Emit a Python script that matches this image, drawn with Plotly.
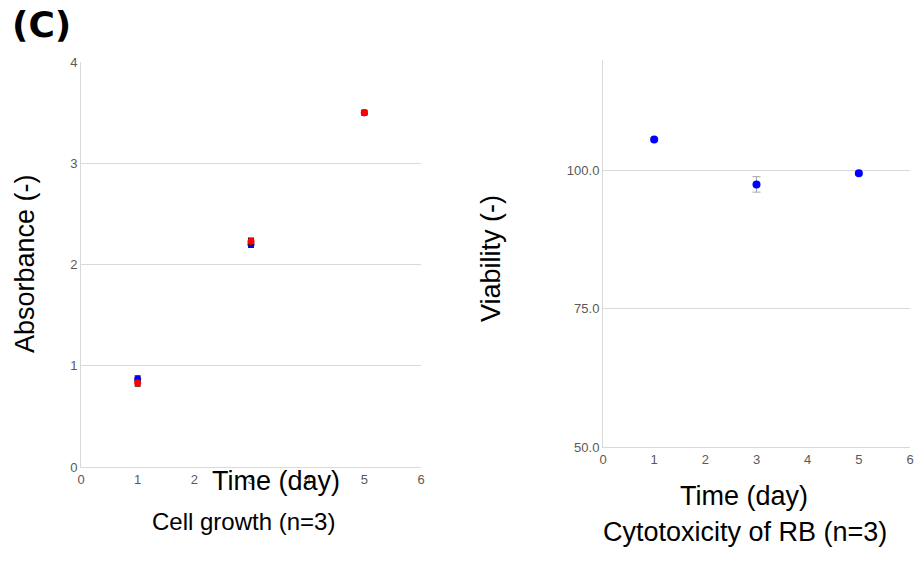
import plotly.graph_objects as go

# Data
days = [1, 3, 5]
growth_blue = [0.87, 2.20, 3.50]
growth_blue_err = [0.03, 0.03, 0.02]
growth_red = [0.83, 2.23, 3.50]
growth_red_err = [0.03, 0.03, 0.02]
viability = [105.6, 97.5, 99.5]
viability_err = [0.3, 1.4, 0.3]

x_ticks = [0, 1, 2, 3, 4, 5, 6]
left_y_ticks = [0, 1, 2, 3, 4]
right_y_ticks = [50, 75, 100]

W, H = 922, 571
OX, OY = 8, 8  # page body margin compensation
FONT = "Liberation Sans, Arial, sans-serif"
TICK_COLOR = "#595959"
LINE_COLOR = "#d9d9d9"


def px(x):
    return (x - OX) / W


def py(y):
    return 1 - (y - OY) / H


fig = go.Figure()

fig.add_trace(go.Scatter(
    x=days, y=growth_blue, mode="markers",
    marker=dict(color="#0000ff", size=7),
    error_y=dict(type="data", array=growth_blue_err, color="#222222", thickness=1.5, width=3),
    xaxis="x", yaxis="y", showlegend=False))
fig.add_trace(go.Scatter(
    x=days, y=growth_red, mode="markers",
    marker=dict(color="#ff0000", size=7),
    error_y=dict(type="data", array=growth_red_err, color="#222222", thickness=1.5, width=3),
    xaxis="x", yaxis="y", showlegend=False))
fig.add_trace(go.Scatter(
    x=days, y=viability, mode="markers",
    marker=dict(color="#0000ff", size=8),
    error_y=dict(type="data", array=viability_err, color="#a6a6a6", thickness=1, width=4),
    xaxis="x2", yaxis="y2", showlegend=False))

axis_common = dict(
    showline=True, linecolor=LINE_COLOR, linewidth=1,
    tickfont=dict(family=FONT, size=13, color=TICK_COLOR),
    ticks="", zeroline=False, fixedrange=True, automargin=False)

fig.update_layout(
    width=W, height=H,
    margin=dict(l=0, r=0, t=0, b=0, pad=0, autoexpand=False),
    paper_bgcolor="white", plot_bgcolor="white",
    xaxis=dict(domain=[px(81), px(421)], anchor="y", range=[0, 6],
               tickvals=x_ticks, showgrid=False, **axis_common),
    yaxis=dict(domain=[py(467), py(62)], anchor="x", range=[0, 4],
               tickvals=left_y_ticks, showgrid=True, gridcolor=LINE_COLOR, **axis_common),
    xaxis2=dict(domain=[px(603), px(910)], anchor="y2", range=[0, 6],
                tickvals=x_ticks, showgrid=False, **axis_common),
    yaxis2=dict(domain=[py(447), py(60)], anchor="x2", range=[50, 120],
                tickvals=right_y_ticks, tickformat=".1f", showgrid=True,
                gridcolor=LINE_COLOR, **axis_common),
)


def ann(text, x, y, size, bold=False, angle=0, family=FONT):
    fig.add_annotation(
        text=f"<b>{text}</b>" if bold else text,
        x=px(x), y=py(y), xref="paper", yref="paper",
        xanchor="center", yanchor="middle", showarrow=False, textangle=angle,
        font=dict(family=family, size=size, color="black"))


ann("(C)", 41, 25, 36, bold=True, family="DejaVu Sans, Liberation Sans, sans-serif")
ann("Absorbance (-)", 25, 264, 27, angle=-90)
ann("Time (day)", 276, 481, 27)
ann("Cell growth (n=3)", 243, 521, 24)
ann("Viability (-)", 491, 259, 27, angle=-90)
ann("Time (day)", 744, 496, 27)
ann("Cytotoxicity of RB (n=3)", 745, 532, 27)

fig.write_html("out.html")
